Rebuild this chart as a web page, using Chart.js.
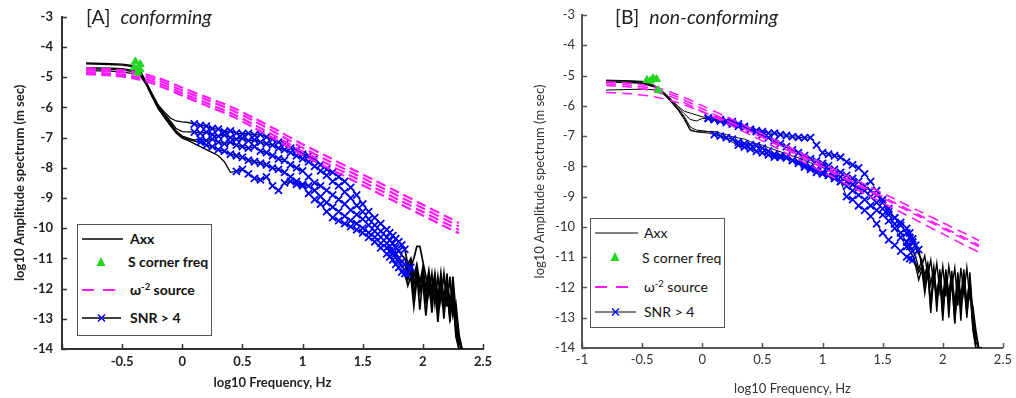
<!DOCTYPE html>
<html>
<head>
<meta charset="utf-8">
<script src="https://cdn.jsdelivr.net/npm/chart.js@4.4.1/dist/chart.umd.min.js"></script>
<style>
  body { margin: 0; background: #fff; width: 1016px; height: 398px; overflow: hidden; position: relative; font-family: Lato, "Open Sans", sans-serif; }
  .panel { position: absolute; top: 0; width: 508px; height: 398px; }
  .panel canvas { position: absolute; left: 0; top: 0; }
  .title { position: absolute; top: 5px; font-size: 19.5px; line-height: 24px; color: #222; white-space: pre; }
  .legend { position: absolute; border: 1.5px solid #555; background: #fff; box-sizing: border-box; }
  .legend svg { position: absolute; left: 0; top: 0; }
  .lt { position: absolute; font-size: 14px; line-height: 18px; color: #111; white-space: nowrap; }
  .lt sup { font-size: 9.5px; vertical-align: 5px; line-height: 0; }
</style>
</head>
<body>
<div class="panel" style="left:0">
  <canvas id="chartA" width="508" height="398"></canvas>
  <div class="title" style="left:86px">[A]  <i>conforming</i></div>
  <div class="legend" style="left:77px;top:224px;width:135px;height:112px;font-weight:700">
    <svg width="135" height="112">
      <line x1="4" y1="14" x2="45" y2="14" stroke="#000" stroke-width="1.3"/>
      <polygon points="23,32 18.5,41 27.5,41" fill="#1fd81f"/>
      <line x1="4" y1="65" x2="43" y2="65" stroke="#ff1aff" stroke-width="2" stroke-dasharray="12,9"/>
      <line x1="4" y1="93" x2="43" y2="93" stroke="#000" stroke-width="1.3"/>
      <path d="M20,89.5 L27,96.5 M27,89.5 L20,96.5" stroke="#0000ff" stroke-width="1.5"/>
    </svg>
    <span class="lt" style="left:52px;top:5px">Axx</span>
    <span class="lt" style="left:50px;top:28px">S corner freq</span>
    <span class="lt" style="left:52px;top:56px">ω<sup>-2</sup> source</span>
    <span class="lt" style="left:52px;top:84px">SNR &gt; 4</span>
  </div>
</div>
<div class="panel" style="left:508px">
  <canvas id="chartB" width="508" height="398"></canvas>
  <div class="title" style="left:107px">[B]  <i>non-conforming</i></div>
  <div class="legend" style="left:82px;top:218px;width:135px;height:110px">
    <svg width="135" height="110">
      <line x1="4" y1="14" x2="47" y2="14" stroke="#000" stroke-width="1"/>
      <polygon points="24,33 19.5,42 28.5,42" fill="#1fd81f"/>
      <line x1="4" y1="68" x2="45" y2="68" stroke="#ff1aff" stroke-width="2" stroke-dasharray="12,9"/>
      <line x1="4" y1="93" x2="45" y2="93" stroke="#000" stroke-width="1"/>
      <path d="M21,89.5 L28,96.5 M28,89.5 L21,96.5" stroke="#0000ff" stroke-width="1.3"/>
    </svg>
    <span class="lt" style="left:53px;top:5px">Axx</span>
    <span class="lt" style="left:51px;top:30px">S corner freq</span>
    <span class="lt" style="left:53px;top:59px">ω<sup>-2</sup> source</span>
    <span class="lt" style="left:53px;top:84px">SNR &gt; 4</span>
  </div>
</div>
<script>
// log10 frequency grid shared by the spectra
const logFreq = [-0.8, -0.6, -0.5, -0.4, -0.35, -0.3, -0.25, -0.2, -0.15, -0.1, -0.05, 0,
  0.05, 0.1, 0.15, 0.2, 0.25, 0.3, 0.35, 0.4, 0.45, 0.5, 0.55, 0.6, 0.65, 0.7, 0.75, 0.8, 0.85, 0.9, 0.95, 1.0,
  1.05, 1.1, 1.15, 1.2, 1.25, 1.3, 1.35, 1.4, 1.45, 1.5, 1.55, 1.6, 1.65, 1.7,
  1.725, 1.75, 1.775, 1.8, 1.825, 1.85, 1.875, 1.9, 1.925, 1.95, 1.975, 2.0, 2.025, 2.05, 2.075, 2.1,
  2.125, 2.15, 2.175, 2.2, 2.225, 2.25, 2.275, 2.3, 2.325];

// [A] conforming: Axx spectra (log10 amplitude)
const axxA1 = [-4.53, -4.55, -4.57, -4.62, -4.78, -5.15, -5.55, -5.92, -6.15, -6.35, -6.45, -6.48,
  -6.5, -6.55, -6.60, -6.62, -6.70, -6.72, -6.80, -6.78, -6.85, -6.88, -6.86, -6.92, -6.90, -6.98, -7.05, -7.15, -7.22, -7.35, -7.42, -7.55,
  -7.6, -7.7, -7.9, -8.05, -8.15, -8.3, -8.45, -8.65, -8.9, -9.2, -9.45, -9.65, -9.85, -10.05,
  -10.15, -10.25, -10.35, -10.45, -10.55, -10.7, -11.2, -11.0, -11.6, -11.2, -11.8, -11.3, -12.0, -11.4, -12.2, -11.5,
  -12.4, -11.5, -12.6, -11.5, -12.8, -11.6, -12.8, -13.6, -14.0];
const axxA2 = [-4.56, -4.58, -4.60, -4.66, -4.82, -5.18, -5.58, -5.95, -6.2, -6.45, -6.7, -6.8,
  -6.81, -6.82, -6.85, -6.82, -6.9, -6.95, -6.92, -7.0, -7.05, -7.02, -7.1, -7.08, -7.15, -7.2, -7.25, -7.35, -7.4, -7.5, -7.6, -7.7,
  -7.8, -7.95, -8.1, -8.25, -8.45, -8.6, -8.8, -9.0, -9.25, -9.45, -9.7, -9.9, -10.1, -10.3,
  -10.4, -10.5, -10.65, -10.75, -10.9, -11.0, -11.4, -11.1, -11.9, -11.3, -12.1, -11.4, -12.5, -11.5, -12.0, -11.6,
  -12.9, -11.6, -12.3, -11.7, -13.1, -11.8, -13.2, -13.8, -14.0];
const axxA3 = [-4.68, -4.70, -4.72, -4.78, -4.88, -5.2, -5.6, -5.98, -6.25, -6.5, -6.78, -6.95,
  -7.02, -7.08, -7.05, -7.1, -7.05, -7.15, -7.2, -7.15, -7.25, -7.3, -7.35, -7.3, -7.45, -7.5, -7.6, -7.7, -7.75, -7.9, -8.0, -8.1,
  -8.3, -8.5, -8.6, -8.75, -8.9, -9.05, -9.2, -9.4, -9.55, -9.7, -9.9, -10.1, -10.3, -10.5,
  -10.6, -10.75, -10.85, -11.0, -11.1, -11.2, -11.5, -11.3, -11.0, -10.6, -10.6, -11.1, -11.6, -12.2, -11.5, -12.5,
  -11.6, -12.4, -11.5, -12.6, -11.6, -12.9, -12.5, -13.5, -14.0];
const axxA4 = [-4.72, -4.74, -4.76, -4.82, -4.92, -5.22, -5.63, -6.02, -6.3, -6.55, -6.82, -6.98,
  -7.06, -7.12, -7.15, -7.25, -7.3, -7.4, -7.45, -7.55, -7.6, -7.65, -7.75, -7.8, -7.85, -7.9, -8.0, -8.05, -8.15, -8.3, -8.45, -8.55,
  -8.6, -8.75, -8.95, -9.15, -9.3, -9.45, -9.6, -9.75, -9.85, -10.0, -10.15, -10.3, -10.5, -10.65,
  -10.75, -10.85, -11.0, -11.1, -11.25, -11.4, -11.7, -11.4, -12.2, -11.5, -12.7, -11.6, -12.1, -11.7, -12.8, -11.7,
  -12.2, -11.8, -13.0, -11.8, -12.4, -12.0, -13.4, -14.0, -14.0];
const axxA5 = [-4.78, -4.80, -4.83, -4.88, -4.95, -5.25, -5.66, -6.05, -6.33, -6.6, -6.86, -7.02,
  -7.1, -7.2, -7.3, -7.4, -7.5, -7.6, -7.8, -8.15, -8.12, -8.05, -8.2, -8.35, -8.4, -8.3, -8.6, -8.75, -8.5, -8.45, -8.55, -8.6,
  -8.85, -9.05, -9.2, -9.45, -9.65, -9.75, -9.85, -9.95, -10.05, -10.15, -10.3, -10.45, -10.65, -10.85,
  -10.95, -11.05, -11.2, -11.3, -11.45, -11.5, -11.9, -11.6, -12.6, -11.7, -12.1, -11.8, -12.9, -11.9, -12.4, -11.9,
  -13.1, -12.0, -12.6, -12.1, -13.0, -12.3, -13.6, -14.0, -14.0];
// frequency band where SNR > 4, per trace
const snrLoA = [0.1, 0.1, 0.15, 0.15, 0.45];
const snrHiA = [1.85, 1.8, 1.9, 1.75, 1.85];

// [A] omega^-2 source models
const srcFreq = [-0.8, -0.6, -0.4, -0.2, 0, 0.2, 0.4, 0.6, 0.8, 1.0, 1.2, 1.4, 1.6, 1.8, 2.0, 2.2, 2.3];
const srcA1 = [-4.70, -4.74, -4.82, -5.03, -5.35, -5.66, -5.97, -6.36, -6.78, -7.22, -7.62, -8.02, -8.42, -8.82, -9.22, -9.62, -9.83];
const srcA2 = [-4.77, -4.81, -4.89, -5.11, -5.44, -5.75, -6.07, -6.46, -6.89, -7.34, -7.74, -8.14, -8.54, -8.94, -9.34, -9.74, -9.94];
const srcA3 = [-4.84, -4.88, -4.97, -5.19, -5.53, -5.85, -6.18, -6.58, -7.01, -7.46, -7.86, -8.26, -8.66, -9.06, -9.46, -9.86, -10.06];
const srcA4 = [-4.90, -4.94, -5.04, -5.27, -5.61, -5.94, -6.27, -6.68, -7.12, -7.58, -7.98, -8.38, -8.78, -9.18, -9.58, -9.98, -10.17];

// [A] S corner frequencies
const cornerFreqA = [-0.39, -0.35, -0.40, -0.35, -0.37];
const cornerAmpA = [-4.48, -4.57, -4.68, -4.75, -4.85];

// [B] non-conforming: Axx spectra
const axxB1 = [-5.15, -5.17, -5.19, -5.32, -5.45, -5.62, -5.82, -6.02, -6.18, -6.24, -6.3, -6.36,
  -6.4, -6.45, -6.5, -6.55, -6.6, -6.68, -6.72, -6.78, -6.82, -6.85, -6.9, -6.9, -6.95, -6.98, -7.02, -7.04, -7.06, -7.05, -7.3, -7.55,
  -7.6, -7.65, -7.7, -7.85, -7.95, -8.05, -8.25, -8.5, -8.8, -9.2, -9.5, -9.7, -9.85, -10.05,
  -10.2, -10.4, -10.6, -10.75, -11.3, -10.95, -11.6, -11.1, -11.9, -11.2, -12.1, -11.3, -12.3, -11.3, -12.0, -11.35,
  -12.6, -11.35, -12.2, -11.35, -12.4, -12.6, -13.4, -14.0, -14.0];
const axxB2 = [-5.17, -5.19, -5.21, -5.35, -5.48, -5.64, -5.85, -6.06, -6.26, -6.45, -6.5, -6.42,
  -6.42, -6.45, -6.46, -6.5, -6.52, -6.6, -6.68, -6.78, -6.85, -6.95, -7.05, -7.15, -7.25, -7.35, -7.46, -7.55, -7.65, -7.75, -7.82, -7.9,
  -7.98, -8.1, -8.2, -8.3, -8.4, -8.5, -8.65, -8.8, -8.95, -9.1, -9.4, -9.7, -9.95, -10.2,
  -10.35, -10.5, -10.7, -10.9, -11.1, -11.6, -11.2, -11.9, -11.3, -12.4, -11.4, -12.8, -11.4, -12.2, -11.45, -12.9,
  -11.5, -12.3, -11.4, -12.7, -11.5, -12.9, -13.6, -14.0, -14.0];
const axxB3 = [-5.2, -5.22, -5.24, -5.37, -5.5, -5.66, -5.88, -6.1, -6.35, -6.7, -6.8, -6.82,
  -6.85, -6.85, -6.9, -6.95, -7.02, -7.06, -7.1, -7.18, -7.25, -7.3, -7.38, -7.45, -7.52, -7.58, -7.65, -7.72, -7.8, -7.88, -7.95, -8.0,
  -8.1, -8.25, -8.35, -8.5, -8.6, -8.7, -8.8, -9.0, -9.2, -9.4, -9.6, -9.9, -10.2, -10.5,
  -10.65, -10.8, -11.0, -11.4, -11.1, -11.8, -11.3, -12.5, -11.4, -12.8, -11.5, -12.3, -11.5, -13.0, -11.6, -12.5,
  -11.6, -13.1, -11.6, -12.5, -11.7, -13.0, -13.8, -14.0, -14.0];
const axxB4 = [-5.22, -5.24, -5.26, -5.38, -5.5, -5.68, -5.9, -6.12, -6.4, -6.78, -6.86, -6.88,
  -6.9, -6.95, -7.0, -7.05, -7.1, -7.2, -7.25, -7.28, -7.32, -7.4, -7.5, -7.6, -7.65, -7.72, -7.8, -7.85, -7.95, -8.02, -8.1, -8.2,
  -8.3, -8.4, -8.5, -8.65, -8.8, -8.95, -9.1, -9.3, -9.45, -9.6, -9.8, -10.05, -10.35, -10.65,
  -10.8, -10.95, -11.2, -11.5, -11.3, -12.0, -11.4, -12.7, -11.5, -12.2, -11.6, -12.9, -11.6, -12.4, -11.7, -13.2,
  -11.7, -12.6, -11.8, -13.0, -11.9, -13.3, -14.0, -14.0, -14.0];
const axxB5 = [-5.48, -5.46, -5.45, -5.47, -5.52, -5.7, -5.92, -6.15, -6.45, -6.82, -6.85, -6.86,
  -6.85, -6.9, -6.98, -7.1, -7.2, -7.3, -7.36, -7.42, -7.5, -7.55, -7.62, -7.69, -7.7, -7.69, -7.8, -7.9, -8.02, -8.1, -8.2, -8.25,
  -8.3, -8.35, -8.5, -9.0, -9.1, -9.3, -9.45, -9.65, -9.9, -10.2, -10.43, -10.6, -10.8, -10.99,
  -11.05, -11.09, -11.3, -11.75, -11.4, -12.2, -11.5, -12.84, -11.6, -12.5, -11.7, -13.1, -11.7, -12.6, -11.8, -13.17,
  -11.8, -12.7, -11.9, -12.84, -12.0, -13.4, -14.0, -14.0, -14.0];
const snrLoB = [0.05, 0.05, 1.0, 0.1, 0.3];
const snrHiB = [1.8, 1.75, 1.75, 1.72, 1.75];

// [B] omega^-2 source models
const srcB1 = [-5.21, -5.26, -5.38, -5.64, -6.0, -6.36, -6.74, -7.13, -7.52, -7.91, -8.3, -8.69, -9.08, -9.47, -9.86, -10.25, -10.45];
const srcB2 = [-5.27, -5.32, -5.45, -5.72, -6.1, -6.47, -6.85, -7.25, -7.65, -8.05, -8.45, -8.85, -9.25, -9.65, -10.05, -10.45, -10.65];
const srcB3 = [-5.33, -5.38, -5.52, -5.8, -6.19, -6.57, -6.96, -7.36, -7.77, -8.18, -8.59, -9.0, -9.41, -9.82, -10.23, -10.64, -10.84];
const srcB4 = [-5.56, -5.6, -5.7, -5.9, -6.2, -6.5, -6.85, -7.22, -7.6, -8.0, -8.4, -8.8, -9.2, -9.6, -10.0, -10.4, -10.6];

const cornerFreqB = [-0.46, -0.41, -0.38, -0.43, -0.365];
const cornerAmpB = [-5.15, -5.09, -5.12, -5.17, -5.48];

const FONT = 'Lato, "Open Sans", sans-serif';
const BLACK = '#000000', BLUE = '#0000ff', GREEN = '#1fd81f', MAGENTA = '#ff1aff';

const pts = (xs, ys) => xs.map((x, i) => ({ x: x, y: ys[i] }));

// matlab style tick marks pointing into the axes
const inwardTicks = {
  id: 'inwardTicks',
  afterDraw(chart, args, opts) {
    const { ctx, chartArea: a, scales } = chart;
    ctx.save();
    ctx.strokeStyle = opts.color;
    ctx.lineWidth = 1.5;
    ctx.beginPath();
    scales.x.ticks.forEach(t => {
      const px = Math.round(scales.x.getPixelForValue(t.value)) + 0.5;
      ctx.moveTo(px, a.bottom); ctx.lineTo(px, a.bottom - 5);
    });
    scales.y.ticks.forEach(t => {
      const py = Math.round(scales.y.getPixelForValue(t.value)) + 0.5;
      ctx.moveTo(a.left, py); ctx.lineTo(a.left + 5, py);
    });
    ctx.stroke();
    ctx.restore();
  }
};

function makeChart(id, cfg) {
  const datasets = [];
  datasets.push({
    data: pts(cfg.cornerFreq, cfg.cornerAmp), showLine: false, pointStyle: 'triangle',
    pointRadius: 4.5, backgroundColor: GREEN, borderColor: GREEN, borderWidth: 1, order: 0
  });
  cfg.src.forEach(ys => datasets.push({
    data: pts(srcFreq, ys), showLine: true, borderColor: MAGENTA, borderWidth: cfg.srcWidth,
    borderDash: cfg.srcDash, pointRadius: 0, tension: 0.3, order: 1
  }));
  cfg.axx.forEach((ys, k) => {
    const all = pts(logFreq, ys);
    datasets.push({
      data: all.filter(p => p.x >= cfg.snrLo[k] && p.x <= cfg.snrHi[k]),
      showLine: false, pointStyle: 'crossRot', pointRadius: 5, borderColor: BLUE,
      backgroundColor: BLUE, borderWidth: 1.8, order: 2
    });
    datasets.push({
      data: all, showLine: true, borderColor: BLACK, borderWidth: cfg.lineWidth,
      pointRadius: 0, tension: 0, order: 3,
      // the noisy high-frequency tail reads as a heavier blob
      segment: { borderWidth: c => c.p0.parsed.x >= 1.7 ? cfg.lineWidth + 0.4 : cfg.lineWidth }
    });
  });

  const tickFont = { family: FONT, size: 13, weight: cfg.weight };
  return new Chart(document.getElementById(id), {
    type: 'scatter',
    data: { datasets: datasets },
    plugins: [inwardTicks],
    options: {
      responsive: false,
      animation: false,
      events: [],
      devicePixelRatio: 1,
      layout: { padding: { left: 0, right: cfg.padRight, top: 15, bottom: 0 } },
      plugins: {
        legend: { display: false },
        tooltip: { enabled: false },
        inwardTicks: { color: cfg.axisColor }
      },
      scales: {
        x: {
          type: 'linear', min: -1, max: 2.5,
          ticks: {
            stepSize: 0.5, autoSkip: false, maxRotation: 0, padding: cfg.xTickPad,
            color: cfg.textColor, font: tickFont,
            callback: v => (v === -1 && !cfg.showMinus1) ? '' : String(v)
          },
          grid: { display: false, drawTicks: false },
          border: { display: true, color: cfg.axisColor, width: 2 },
          title: {
            display: true, text: 'log10 Frequency, Hz', color: cfg.textColor,
            font: tickFont, padding: { top: 0, bottom: cfg.xTitlePad }
          },
          afterFit: s => { s.height = cfg.xHeight; }
        },
        y: {
          min: -14, max: -3,
          ticks: { stepSize: 1, padding: cfg.yTickPad, color: cfg.textColor, font: tickFont },
          grid: { display: false, drawTicks: false },
          border: { display: true, color: cfg.axisColor, width: 2 },
          title: {
            display: true, text: 'log10 Amplitude spectrum (m sec)', color: cfg.textColor,
            font: tickFont, padding: { top: cfg.yTitlePad, bottom: 0 }
          },
          afterFit: s => { s.width = cfg.yWidth; }
        }
      }
    }
  });
}

makeChart('chartA', {
  cornerFreq: cornerFreqA, cornerAmp: cornerAmpA,
  src: [srcA1, srcA2, srcA3, srcA4], srcWidth: 2.2, srcDash: [10, 5],
  axx: [axxA1, axxA2, axxA3, axxA4, axxA5], snrLo: snrLoA, snrHi: snrHiA,
  lineWidth: 1.3, weight: 'bold', textColor: '#222', axisColor: '#333',
  padRight: 25, xHeight: 49, yWidth: 62, xTickPad: 5, yTickPad: 9,
  xTitlePad: 7, yTitlePad: 12, showMinus1: false
});

makeChart('chartB', {
  cornerFreq: cornerFreqB, cornerAmp: cornerAmpB,
  src: [srcB1, srcB2, srcB3, srcB4], srcWidth: 1.6, srcDash: [10, 6],
  axx: [axxB1, axxB2, axxB3, axxB4, axxB5], snrLo: snrLoB, snrHi: snrHiB,
  lineWidth: 1, weight: 'normal', textColor: '#333', axisColor: '#555',
  padRight: 11, xHeight: 50, yWidth: 74, xTickPad: 4, yTickPad: 7,
  xTitlePad: 1, yTitlePad: 24, showMinus1: true
});
</script>
</body>
</html>
